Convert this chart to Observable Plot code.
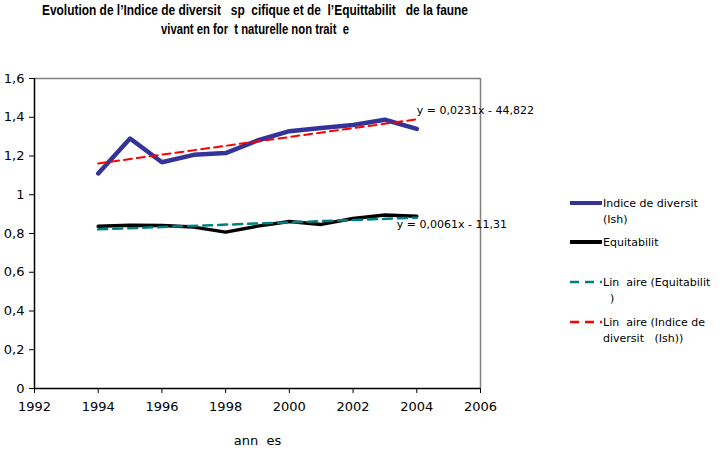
<!DOCTYPE html>
<html><head><meta charset="utf-8">
<script src="https://cdn.jsdelivr.net/npm/d3@7"></script>
<script src="https://cdn.jsdelivr.net/npm/@observablehq/plot@0.6"></script>
<style>
body{margin:0;background:#fff;}
svg{font-family:"DejaVu Sans",sans-serif;}
</style>
</head><body><div id="chart"></div>
<script>
const years = [1994,1995,1996,1997,1998,1999,2000,2001,2002,2003,2004];
const indice = [1.11,1.29,1.168,1.206,1.215,1.28,1.328,1.345,1.36,1.387,1.34];
const equit = [0.837,0.842,0.841,0.833,0.807,0.838,0.862,0.847,0.877,0.895,0.889];
const xTicks = [1992,1994,1996,1998,2000,2002,2004,2006];
const yTicks = [0,0.2,0.4,0.6,0.8,1,1.2,1.4,1.6];
const eqIndice = "y = 0,0231x - 44,822";
const eqEquit = "y = 0,0061x - 11,31";
const titleLines = ["Evolution de l\u2019Indice de diversit   sp  cifique et de  l\u2019Equittabilit   de la faune","vivant en for  t naturelle non trait  e"];
const legendItems = [
  {lines:["Indice de diversit","(Ish)"], color:"#333399", width:4, dash:null},
  {lines:["Equitabilit"], color:"#000000", width:4, dash:null},
  {lines:["Lin  aire (Equitabilit","  )"], color:"#008080", width:2.5, dash:"9,6"},
  {lines:["Lin  aire (Indice de","diversit   (Ish))"], color:"#ff0000", width:2.5, dash:"9,6"}
];

const dIndice = years.map((y,i)=>({year:y, v:indice[i]}));
const dEquit = years.map((y,i)=>({year:y, v:equit[i]}));
const fmt = d => String(d).replace(".", ",");

const plot = Plot.plot({
  width: 723, height: 452,
  marginLeft: 34, marginRight: 243, marginTop: 78, marginBottom: 64,
  style: {fontFamily: "DejaVu Sans, sans-serif", fontSize: "13px", color: "#000", background: "#fff"},
  x: {domain: [1992, 2006]},
  y: {domain: [0, 1.6]},
  marks: [
    Plot.ruleY([1.6], {stroke: "#808080", strokeWidth: 1.5}),
    Plot.ruleX([2006], {stroke: "#808080", strokeWidth: 1.5}),
    Plot.axisX({ticks: xTicks, tickFormat: d => String(d), tickSize: 5, tickPadding: 8, fontSize: 13, label: "ann  es", labelAnchor: "center", labelArrow: "none", labelOffset: 56, stroke: "#000"}),
    Plot.axisY({ticks: yTicks, tickFormat: fmt, tickSize: 5, tickPadding: 5, fontSize: 13, label: null, stroke: "#000"}),
    Plot.ruleX([1992], {stroke: "#000", strokeWidth: 1.5}),
    Plot.ruleY([0], {stroke: "#000", strokeWidth: 1.5}),
    Plot.line(dIndice, {x: "year", y: "v", stroke: "#333399", strokeWidth: 4.5}),
    Plot.line(dEquit, {x: "year", y: "v", stroke: "#000", strokeWidth: 3.5}),
    Plot.linearRegressionY(dEquit, {x: "year", y: "v", ci: 0, stroke: "#008080", strokeWidth: 2.5, strokeDasharray: "9,6"}),
    Plot.linearRegressionY(dIndice, {x: "year", y: "v", ci: 0, stroke: "#ff0000", strokeWidth: 2, strokeDasharray: "8,5"}),
    Plot.text([{year: 2004, v: 1.387}], {x: "year", y: "v", text: () => eqIndice, textAnchor: "start", dx: 0, dy: -9, fontSize: 11, fill: "#000"}),
    Plot.text([{year: 2004, v: 0.86}], {x: "year", y: "v", text: () => eqEquit, textAnchor: "start", dx: -20, dy: 3, fontSize: 11, fill: "#000"})
  ]
});

const svg = d3.select(plot);
const titleW = [426, 188];
titleLines.forEach((t, i) => svg.append("text")
  .attr("x", 255).attr("y", 15 + i * 19).attr("text-anchor", "middle")
  .attr("font-weight", "bold").attr("font-size", 14)
  .attr("textLength", titleW[i]).attr("lengthAdjust", "spacingAndGlyphs")
  .style("font-family", "'Liberation Sans', Arial, sans-serif").style("white-space", "pre")
  .attr("fill", "#000").text(t));

const lg = svg.append("g").attr("font-size", 11).attr("fill", "#000").attr("text-anchor", "start");
const lgY = [203, 242, 282, 322];
legendItems.forEach((it, i) => {
  const y = lgY[i];
  lg.append("line").attr("x1", 570).attr("x2", 602).attr("y1", y).attr("y2", y)
    .attr("stroke", it.color).attr("stroke-width", it.width).attr("stroke-dasharray", it.dash);
  it.lines.forEach((t, j) => lg.append("text").attr("x", 603).attr("y", y + 4 + j * 16).style("white-space", "pre").text(t));
});

document.getElementById("chart").appendChild(plot);
</script>
</body></html>
